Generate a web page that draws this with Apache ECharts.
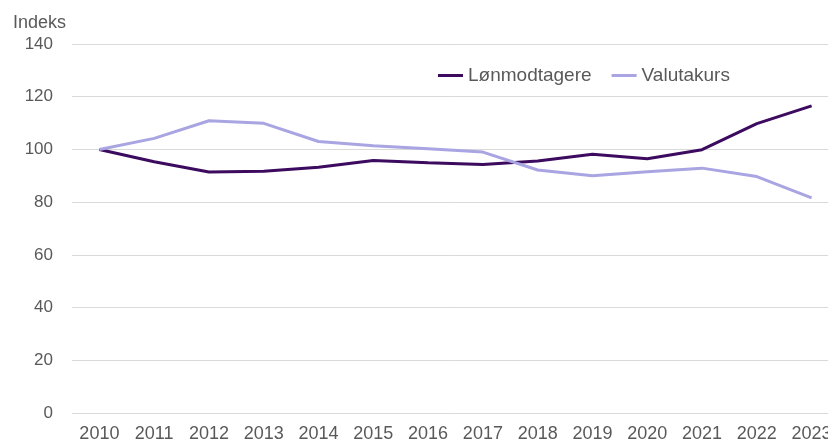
<!DOCTYPE html>
<html>
<head>
<meta charset="utf-8">
<script src="https://cdn.jsdelivr.net/npm/echarts@6/dist/echarts.min.js"></script>
<style>
  html, body { margin: 0; padding: 0; background: #fff; }
  #chart { width: 828px; height: 443px; }
</style>
</head>
<body>
<div id="chart"></div>
<script>
// data
const years = ['2010', '2011', '2012', '2013', '2014', '2015', '2016',
  '2017', '2018', '2019', '2020', '2021', '2022', '2023'];
const loenmodtagere = [100, 95.3, 91.4, 91.7, 93.2, 95.8, 94.9, 94.3, 95.6, 98.2, 96.5, 99.9, 109.8, 116.5];
const valutakurs = [100, 104.2, 110.9, 109.9, 103.0, 101.4, 100.3, 99.0, 92.2, 90.0, 91.5, 92.9, 89.7, 81.6];

const textColor = '#595959';
const font = 'Liberation Sans, Arial, sans-serif';

const chart = echarts.init(document.getElementById('chart'));

chart.setOption({
  animation: false,
  grid: {
    left: 72, top: 44, width: 767, bottom: 30,
    containLabel: false,
    outerBoundsMode: 'none'
  },
  legend: {
    top: 61,
    left: 433,
    itemWidth: 25,
    itemHeight: 3,
    itemGap: 20,
    icon: 'rect',
    textStyle: { color: textColor, fontSize: 19, fontFamily: font },
    data: ['Lønmodtagere', 'Valutakurs']
  },
  xAxis: {
    type: 'category',
    data: years,
    boundaryGap: true,
    axisLine: { show: false },
    axisTick: { show: false },
    axisLabel: { color: textColor, fontSize: 18, fontFamily: font, margin: 12, interval: 0 }
  },
  yAxis: {
    type: 'value',
    min: 0,
    max: 140,
    interval: 20,
    name: 'Indeks',
    nameLocation: 'end',
    nameGap: 12,
    nameTextStyle: { color: textColor, fontSize: 18, fontFamily: font, align: 'right', padding: [0, 6, 0, 0] },
    axisLine: { show: false },
    axisTick: { show: false },
    axisLabel: { color: textColor, fontSize: 17, fontFamily: font, margin: 19 },
    splitLine: { lineStyle: { color: '#d9d9d9', width: 1 } }
  },
  series: [
    {
      name: 'Lønmodtagere',
      type: 'line',
      data: loenmodtagere,
      symbol: 'none',
      color: '#3c0a5e',
      lineStyle: { width: 3, color: '#3c0a5e' }
    },
    {
      name: 'Valutakurs',
      type: 'line',
      data: valutakurs,
      symbol: 'none',
      color: '#a9a4e2',
      lineStyle: { width: 3, color: '#a9a4e2' }
    }
  ]
});
</script>
</body>
</html>
